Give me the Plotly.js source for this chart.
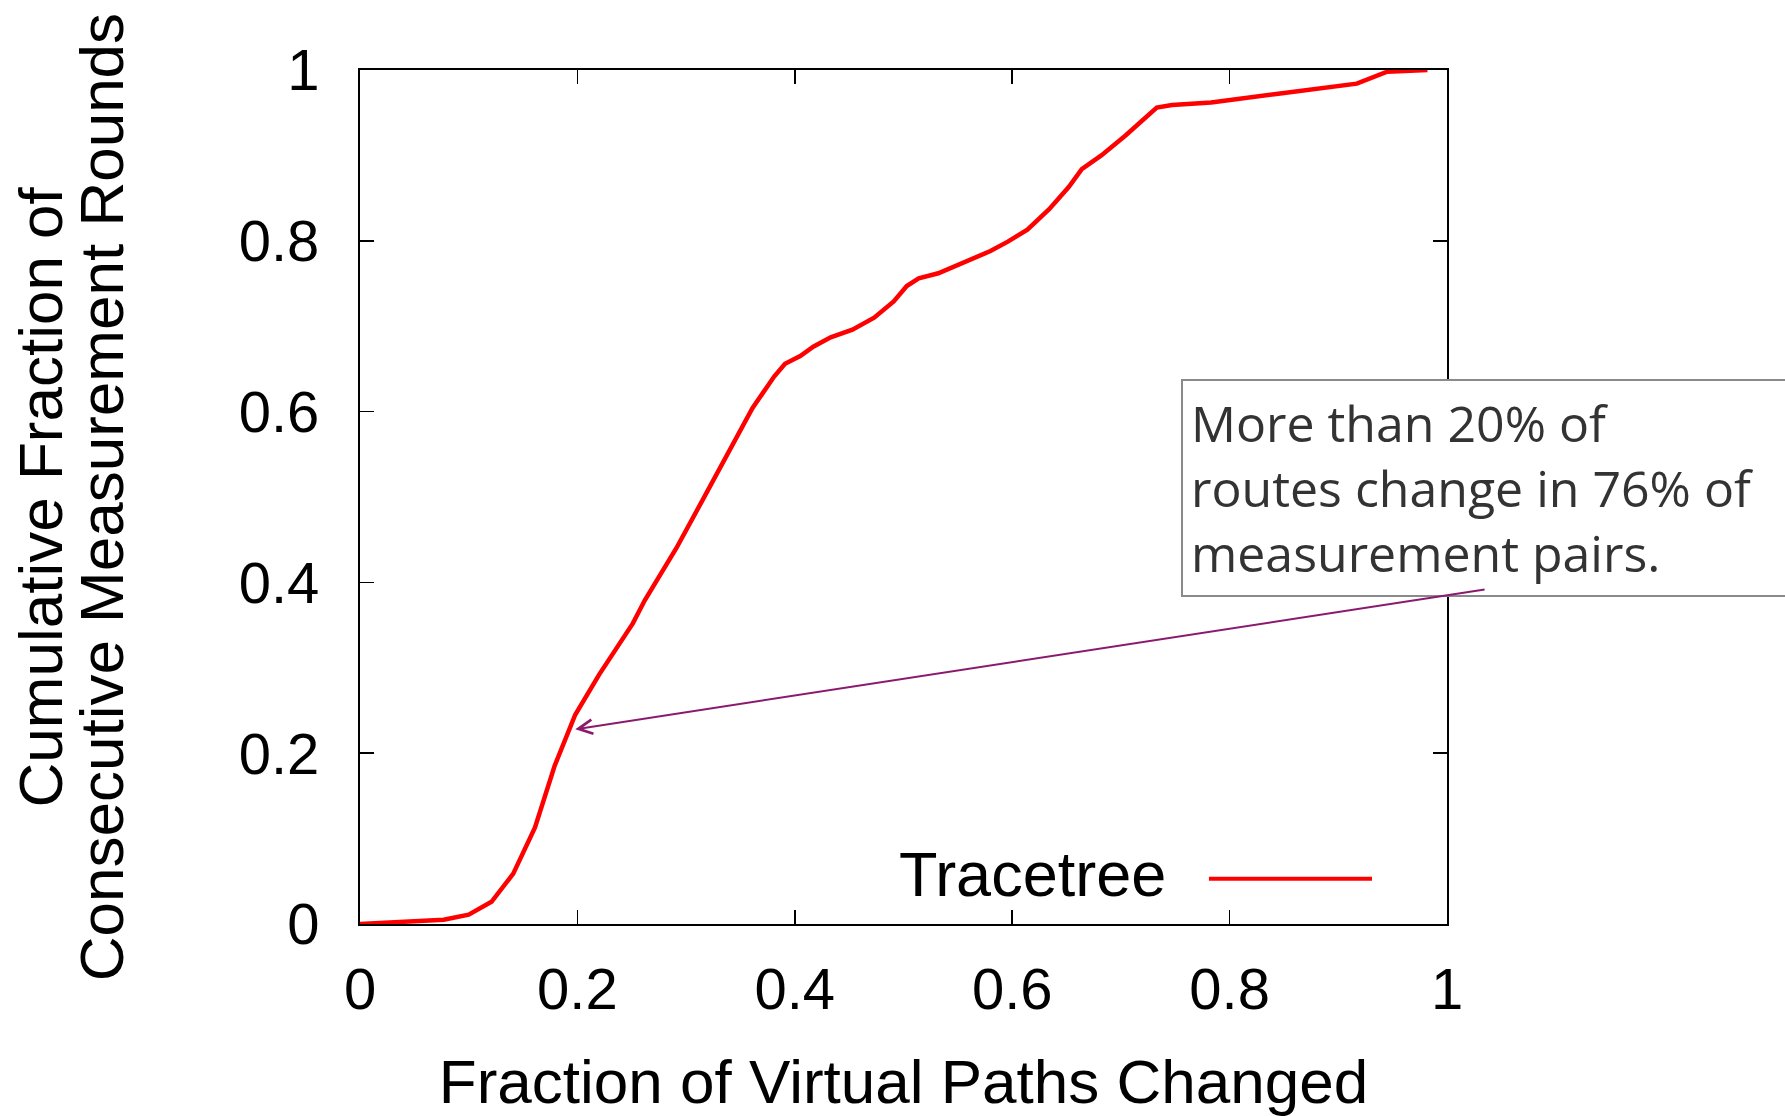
<!DOCTYPE html>
<html>
<head>
<meta charset="utf-8">
<script src="https://cdn.plot.ly/plotly-3.0.1.min.js"></script>
<style>html,body{margin:0;padding:0;background:#fff;}#chart{width:1785px;height:1116px;}</style>
</head>
<body>
<div id="chart"></div>
<script>
// Data
const fractionChanged = [0, 0.059, 0.077, 0.1, 0.121, 0.141, 0.161, 0.179, 0.198, 0.22, 0.251, 0.262, 0.291, 0.318, 0.34, 0.361, 0.381, 0.391, 0.405, 0.417, 0.433, 0.453, 0.473, 0.491, 0.503, 0.514, 0.532, 0.56, 0.58, 0.596, 0.614, 0.634, 0.652, 0.664, 0.682, 0.704, 0.724, 0.733, 0.747, 0.783, 0.843, 0.903, 0.917, 0.945, 0.982];
const cumulativeFraction = [0, 0.003, 0.005, 0.011, 0.026, 0.059, 0.113, 0.185, 0.245, 0.292, 0.352, 0.379, 0.44, 0.503, 0.554, 0.604, 0.641, 0.656, 0.665, 0.676, 0.687, 0.696, 0.71, 0.729, 0.747, 0.756, 0.762, 0.777, 0.788, 0.799, 0.813, 0.837, 0.863, 0.884, 0.9, 0.923, 0.947, 0.956, 0.959, 0.962, 0.972, 0.981, 0.984, 0.998, 1.0];
const seriesName = "Tracetree";
const tickVals = [0, 0.2, 0.4, 0.6, 0.8, 1];
const tickText = ["0", "0.2", "0.4", "0.6", "0.8", "1"];
const xTitle = "Fraction of Virtual Paths Changed";
const yTitleLines = ["Cumulative Fraction of", "Consecutive Measurement Rounds"];
const noteText = "More than 20% of<br>routes change in 76% of<br>measurement pairs.";
const arrowHead = [0.198, 0.228];
const arrowTail = [1.036, 0.392];

const FONT = "Liberation Sans, Arial, Helvetica, sans-serif";
const lineColor = "#ff0000";

const trace = {
  x: fractionChanged,
  y: cumulativeFraction,
  type: "scatter",
  mode: "lines",
  name: seriesName,
  line: {color: lineColor, width: 4.5},
  showlegend: false,
  hoverinfo: "x+y"
};

const axisCommon = {
  range: [0, 1],
  tickmode: "array",
  tickvals: tickVals,
  ticktext: tickText,
  ticks: "inside",
  ticklen: 14,
  tickwidth: 1.5,
  tickcolor: "#000",
  showline: true,
  linecolor: "#000",
  linewidth: 2,
  mirror: "allticks",
  showgrid: false,
  zeroline: false,
  tickfont: {family: FONT, size: 58, color: "#000"},
  fixedrange: true
};

const layout = {
  width: 1785,
  height: 1116,
  margin: {l: 360, r: 338, t: 70, b: 192},
  paper_bgcolor: "#fff",
  plot_bgcolor: "#fff",
  font: {family: FONT, color: "#000"},
  xaxis: Object.assign({}, axisCommon, {
    ticklabelstandoff: 13,
    title: {text: xTitle, font: {family: FONT, size: 62, color: "#000"}, standoff: 42}
  }),
  yaxis: Object.assign({}, axisCommon, {ticklabelstandoff: 27}),
  annotations: [
    {xref: "paper", yref: "paper", x: -0.294, y: 0.5, xanchor: "center", yanchor: "middle",
     text: yTitleLines[0], textangle: -90, showarrow: false,
     font: {family: FONT, size: 62, color: "#000"}},
    {xref: "paper", yref: "paper", x: -0.238, y: 0.5, xanchor: "center", yanchor: "middle",
     text: yTitleLines[1], textangle: -90, showarrow: false,
     font: {family: FONT, size: 62, color: "#000"}},
    {xref: "paper", yref: "paper", x: 0.743, y: 0.058, xanchor: "right", yanchor: "middle",
     text: seriesName, showarrow: false,
     font: {family: FONT, size: 63, color: "#000"}},
    {xref: "paper", yref: "paper", x: 0.755, y: 0.638, xanchor: "left", yanchor: "top",
     text: noteText, showarrow: false, align: "left", width: 660,
     bgcolor: "#fff", bordercolor: "#8a8a8a", borderwidth: 2, borderpad: 8,
     font: {family: "Open Sans, sans-serif", size: 50, color: "#333"}},
    {xref: "x", yref: "y", axref: "x", ayref: "y",
     x: arrowHead[0], y: arrowHead[1], ax: arrowTail[0], ay: arrowTail[1],
     text: "", showarrow: true, arrowhead: 5, arrowsize: 1.4, arrowwidth: 2, arrowcolor: "#8b1a6e"}
  ],
  shapes: [
    {type: "line", xref: "paper", yref: "paper", x0: 0.781, x1: 0.931, y0: 0.053, y1: 0.053,
     line: {color: lineColor, width: 4}}
  ]
};

Plotly.newPlot("chart", [trace], layout, {displayModeBar: false, staticPlot: true});
</script>
</body>
</html>
